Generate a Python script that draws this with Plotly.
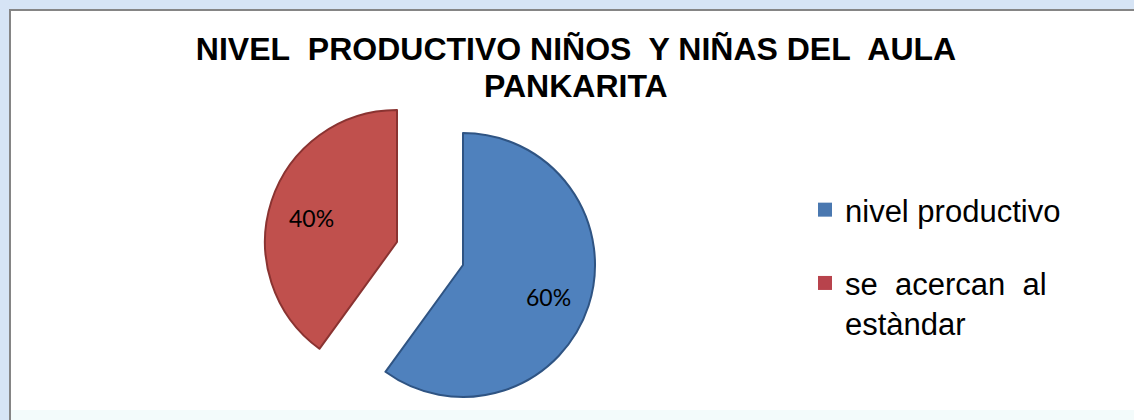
import math
import plotly.graph_objects as go

# ---- data ----
categories = ["nivel productivo", "se acercan al estàndar"]
percentages = [60, 40]
legend_labels = ["nivel productivo", "se\u00a0 acercan\u00a0 al<br>estàndar"]
slice_colors = ["#4f81bd", "#c0504d"]
edge_colors = ["#2f5483", "#8a3331"]
legend_colors = ["#4a78b0", "#b8434c"]
title_line1 = "NIVEL\u00a0 PRODUCTIVO NIÑOS\u00a0 Y NIÑAS DEL\u00a0 AULA"
title_line2 = "PANKARITA"

W, H = 1134, 420


def dom(cx, cy, r):
    return dict(x=[(cx - r) / W, (cx + r) / W], y=[1 - (cy + r) / H, 1 - (cy - r) / H])


# exploded slice placement (pixel centres, radius)
placements = [(463, 265, 132), (397, 242, 132)]

fig = go.Figure()
annotations = []
total = sum(percentages)
start = 0.0
for i, (cx, cy, r) in enumerate(placements):
    colors = ["rgba(0,0,0,0)"] * len(categories)
    lcolors = ["rgba(0,0,0,0)"] * len(categories)
    lwidths = [0] * len(categories)
    colors[i] = slice_colors[i]
    lcolors[i] = edge_colors[i]
    lwidths[i] = 2
    fig.add_trace(go.Pie(
        labels=categories, values=percentages, sort=False, direction="clockwise",
        rotation=0, domain=dom(cx, cy, r), textinfo="none",
        marker=dict(colors=colors, line=dict(color=lcolors, width=lwidths)),
        showlegend=False, hoverinfo="skip",
    ))
    # percentage label inside the slice, along its mid-angle
    frac = percentages[i] / total
    mid = (start + frac / 2) * 2 * math.pi
    start += frac
    tx = cx + 0.68 * r * math.sin(mid)
    ty = cy - 0.68 * r * math.cos(mid) + 4
    annotations.append(dict(
        x=tx / W, y=1 - ty / H, xref="paper", yref="paper", showarrow=False,
        text=f"{percentages[i]}%", xanchor="center", yanchor="middle",
        font=dict(family="Lato", size=23, color="black")))

annotations.append(dict(
    x=576 / W, y=1 - 86 / H, xref="paper", yref="paper", showarrow=False,
    text=title_line2, xanchor="center", yanchor="middle",
    font=dict(family="Liberation Sans", size=32, color="black", weight="bold")))

for i, lab in enumerate(legend_labels):
    fig.add_trace(go.Scatter(
        x=[None], y=[None], mode="markers", name=lab, legendgroup=f"g{i}",
        marker=dict(symbol="square", size=14, color=legend_colors[i]),
    ))

shapes = [
    dict(type="rect", xref="paper", yref="paper", x0=0, x1=1, y0=1 - 9 / H, y1=1,
         fillcolor="#d6e4f5", line_width=0, layer="below"),
    dict(type="rect", xref="paper", yref="paper", x0=0, x1=9 / W, y0=0, y1=1,
         fillcolor="#d6e4f5", line_width=0, layer="below"),
    dict(type="rect", xref="paper", yref="paper", x0=9 / W, x1=1, y0=0, y1=10 / H,
         fillcolor="#f3fbfb", line_width=0, layer="below"),
    dict(type="line", xref="paper", yref="paper", x0=9 / W, x1=1, y0=1 - 10 / H, y1=1 - 10 / H,
         line=dict(color="#858585", width=2), layer="below"),
    dict(type="line", xref="paper", yref="paper", x0=10 / W, x1=10 / W, y0=0, y1=1 - 9 / H,
         line=dict(color="#858585", width=2), layer="below"),
]

fig.update_layout(
    width=W, height=H, autosize=False,
    margin=dict(l=0, r=0, t=0, b=0),
    paper_bgcolor="white", plot_bgcolor="white",
    xaxis=dict(visible=False), yaxis=dict(visible=False),
    shapes=shapes, annotations=annotations,
    title=dict(text=title_line1, x=576 / W, xanchor="center", y=1 - 49 / H, yanchor="middle",
               font=dict(family="Liberation Sans", size=32, color="black", weight="bold")),
    legend=dict(x=805 / W, xanchor="left", y=1 - 183 / H, yanchor="top",
                font=dict(family="Liberation Sans", size=31, color="black"),
                bgcolor="rgba(0,0,0,0)", traceorder="grouped", tracegroupgap=30,
                itemwidth=30, valign="top"),
)

fig.write_html("out.html", config={"displayModeBar": False},
               post_script="document.body.style.margin='0px';document.body.style.overflow='hidden';")
